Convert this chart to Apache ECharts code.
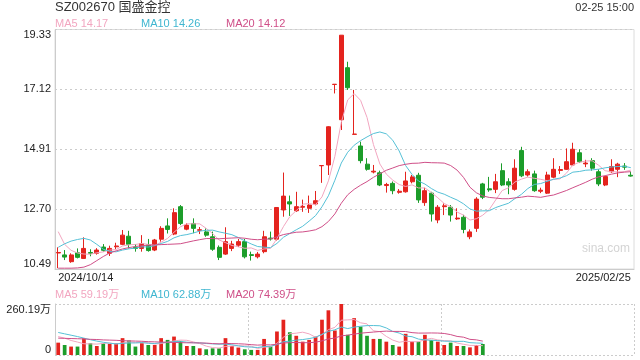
<!DOCTYPE html>
<html>
<head>
<meta charset="utf-8">
<script src="https://cdn.jsdelivr.net/npm/echarts@6/dist/echarts.min.js"></script>
<style>html,body{margin:0;padding:0;background:#fff}#c{width:640px;height:360px}</style>
</head>
<body>
<div id="c"></div>
<script>
const dates = ['2024/10/14','2024/10/15','2024/10/16','2024/10/17','2024/10/18','2024/10/21','2024/10/22','2024/10/23','2024/10/24','2024/10/25','2024/10/28','2024/10/29','2024/10/30','2024/10/31',
'2024/11/01','2024/11/04','2024/11/05','2024/11/06','2024/11/07','2024/11/08','2024/11/11','2024/11/12','2024/11/13','2024/11/14','2024/11/15','2024/11/18','2024/11/19','2024/11/20','2024/11/21','2024/11/22','2024/11/25','2024/11/26','2024/11/27','2024/11/28','2024/11/29',
'2024/12/02','2024/12/03','2024/12/04','2024/12/05','2024/12/06','2024/12/09','2024/12/10','2024/12/11','2024/12/12','2024/12/13','2024/12/16','2024/12/17','2024/12/18','2024/12/19','2024/12/20','2024/12/23','2024/12/24','2024/12/25','2024/12/26','2024/12/27','2024/12/30','2024/12/31',
'2025/01/02','2025/01/03','2025/01/06','2025/01/07','2025/01/08','2025/01/09','2025/01/10','2025/01/13','2025/01/14','2025/01/15','2025/01/16','2025/01/17','2025/01/20','2025/01/21','2025/01/22','2025/01/23','2025/01/24','2025/01/27',
'2025/02/05','2025/02/06','2025/02/07','2025/02/10','2025/02/11','2025/02/12','2025/02/13','2025/02/14','2025/02/17','2025/02/18','2025/02/19','2025/02/20','2025/02/21','2025/02/24','2025/02/25'];

const opens  = [11.08,11.01,10.76,11.09,10.88,11.10,11.07,11.30,11.07,11.31,11.40,11.70,11.29,11.25,11.38,11.19,11.59,12.08,11.78,12.79,11.96,12.17,11.92,11.86,11.68,11.29,11.04,11.25,11.37,11.50,11.02,10.94,11.13,11.63,11.59,12.67,12.97,12.64,12.77,12.73,12.89,14.30,14.33,17.30,16.00,17.92,15.46,15.03,14.36,14.07,14.04,13.57,13.65,13.32,13.34,13.71,13.95,12.94,13.29,12.30,12.79,12.77,12.34,12.40,11.68,11.99,13.63,13.45,13.43,14.12,13.71,13.43,14.86,13.96,14.00,13.36,13.29,13.88,14.13,14.17,14.33,14.78,14.37,14.49,14.08,13.59,14.08,14.17,14.29,13.95];
const closes = [11.10,10.93,11.01,10.92,11.25,11.07,11.19,11.18,11.25,11.34,11.74,11.40,11.25,11.43,11.17,11.56,11.99,11.95,12.57,12.17,12.11,11.99,11.94,11.74,11.22,10.92,11.50,11.41,11.50,10.94,10.99,11.04,11.68,11.60,12.76,13.18,12.89,12.79,12.80,12.85,13.01,14.31,15.74,17.31,19.12,17.18,15.47,14.49,14.17,14.10,13.59,13.61,13.38,13.36,13.74,13.89,13.04,13.38,12.52,12.77,12.82,12.48,12.37,11.95,11.86,13.07,13.14,13.41,13.71,13.59,13.59,14.21,13.93,14.08,13.38,13.40,13.96,14.17,14.16,14.45,14.91,14.45,14.40,14.21,13.63,13.90,14.27,14.36,14.25,13.92];
const lows   = [10.52,10.82,10.72,10.88,10.86,10.96,11.02,11.13,10.97,11.22,11.37,11.25,11.13,11.13,11.13,11.15,11.50,11.80,11.74,12.11,11.92,11.81,11.78,11.68,11.16,10.82,11.01,11.15,11.30,10.88,10.80,10.88,11.07,11.54,11.54,12.42,12.45,12.60,12.60,12.56,12.84,13.67,13.96,16.97,15.62,17.10,15.46,14.39,14.12,14.02,13.55,13.31,13.25,13.27,13.31,13.65,12.93,12.82,12.24,12.18,12.48,12.24,12.30,11.81,11.59,11.86,13.07,13.34,13.29,13.55,13.25,13.38,13.88,13.90,13.34,13.29,13.26,13.84,14.00,14.15,14.29,14.40,14.25,14.12,13.55,13.55,14.04,13.88,14.15,13.90];
const highs  = [11.29,11.19,11.07,11.25,11.66,11.22,11.26,11.41,11.35,11.46,11.93,11.90,11.41,11.74,11.60,11.60,12.07,12.36,12.73,12.85,12.18,12.36,12.04,11.99,11.87,11.36,12.03,11.53,11.60,11.60,11.13,11.12,11.90,11.87,12.76,14.05,13.20,13.34,13.05,13.20,13.37,14.31,15.76,17.31,19.12,18.14,17.10,15.19,14.58,14.33,14.12,13.67,13.72,13.44,14.08,13.96,14.04,13.49,13.34,12.85,12.91,12.85,12.73,12.49,11.95,13.14,13.67,13.89,14.00,14.39,13.84,14.54,15.00,14.17,14.12,13.49,14.08,14.58,14.29,14.94,15.15,14.91,14.52,14.58,14.17,13.92,14.54,14.41,14.40,14.08];

// volume in 万 (only bars visible in the picture)
const volumes = [63,51,43,43,86,60,46,60,56,60,86,74,43,60,51,51,86,77,94,72,46,46,34,29,34,34,86,46,38,29,26,26,82,43,120,180,116,98,68,77,94,180,228,125,260.19,103,188,145,98,82,82,68,51,43,108,68,68,103,77,68,51,63,46,46,39,51,56];

const ma5Head  = [11.87,11.40,11.18,11.08];
const ma10Head = [11.29,11.42,11.52,11.58,11.62,11.56,11.40,11.22,11.14];
const ma20Head = [10.52,10.52,10.52,10.53,10.56,10.65,10.80,10.95,11.08,11.16,11.23,11.28,11.32,11.35,11.37,11.38,11.39,11.40,11.41];
const vma5Head  = [94,86,74,66];
const vma10Head = [115,108,101,94,86,78,71,65,60];
const vma20Head = [86,85,84,83,82,80,79,77,76,75,73,72,71,70,68,67,66,65,64];

const priceMin = 10.49, priceMax = 19.33, priceStep = 2.21;
const volMax = 260.19;
const maLabels = ['MA5 14.17','MA10 14.26','MA20 14.12'];
const volMaLabels = ['MA5 59.19万','MA10 62.88万','MA20 74.39万'];

const RED = '#e4231e', GREEN = '#1c9d2a';
const C5 = '#f2a6c0', C10 = '#55c0d6', C20 = '#cf4f88';

function movingAvg(values, n, head, len) {
  const out = [];
  for (let i = 0; i < len; i++) {
    if (i < head.length) { out.push(head[i]); continue; }
    if (i >= values.length || i - n + 1 < 0) { out.push(null); continue; }
    let s = 0, ok = true;
    for (let k = i - n + 1; k <= i; k++) { if (values[k] == null) { ok = false; break; } s += values[k]; }
    out.push(ok ? +(s / n).toFixed(3) : null);
  }
  return out;
}
function isUp(i) {
  if (closes[i] > opens[i]) return true;
  if (closes[i] < opens[i]) return false;
  return i === 0 || closes[i] >= closes[i - 1];
}

const N = dates.length;
const kData = dates.map((d, i) => [opens[i], closes[i], lows[i], highs[i]]);
const volData = dates.map((d, i) => i < volumes.length ?
  { value: volumes[i], itemStyle: { color: isUp(i) ? RED : GREEN } } : null);

const FONT = 'Arial, "Liberation Sans", "Noto Sans CJK SC", sans-serif';
const chart = echarts.init(document.getElementById('c'), null, { renderer: 'canvas' });

const textEl = (t, x, y, color, size) => ({ type: 'text', left: x, top: y, silent: true,
  style: { text: t, fill: color, font: (size || 11) + 'px ' + FONT } });

chart.setOption({
  animation: false,
  textStyle: { fontFamily: FONT },
  title: [
    { text: 'SZ002670 国盛金控', left: 55, top: 1, padding: 0,
      textStyle: { fontSize: 13, fontWeight: 'normal', color: '#333', fontFamily: FONT } },
    { text: '02-25 15:00', right: 6, top: 2, padding: 0,
      textStyle: { fontSize: 11, fontWeight: 'normal', color: '#333', fontFamily: FONT } }
  ],
  graphic: [
    textEl(maLabels[0], 55, 18, C5), textEl(maLabels[1], 141, 18, '#3fb6d0'), textEl(maLabels[2], 226, 18, C20),
    textEl(volMaLabels[0], 55, 289, C5), textEl(volMaLabels[1], 141, 289, '#3fb6d0'), textEl(volMaLabels[2], 226, 289, C20),
    textEl('sina.com', 582, 243, '#d4d4d4', 12)
  ],
  grid: [
    { left: 55, right: 6, top: 29.5, height: 239.5, show: true, borderColor: '#dcdcdc', borderWidth: 1 },
    { left: 55, right: 6, top: 304, height: 51 }
  ],
  xAxis: [
    { type: 'category', data: dates, gridIndex: 0, boundaryGap: true,
      axisLine: { show: true, lineStyle: { color: '#ccc' } }, axisTick: { show: false },
      axisLabel: { interval: (i) => i === 0 || i === N - 1, margin: 3, fontSize: 11, color: '#222',
        alignMinLabel: 'left', alignMaxLabel: 'right' },
      splitLine: { show: false } },
    { type: 'category', data: dates, gridIndex: 1, boundaryGap: true,
      axisLine: { show: false }, axisTick: { show: false }, axisLabel: { show: false },
      splitLine: { show: true, interval: 29, lineStyle: { color: '#ccc', type: [2, 2] } } }
  ],
  yAxis: [
    { type: 'value', gridIndex: 0, min: priceMin, max: priceMax, interval: priceStep,
      axisLine: { show: true, lineStyle: { color: '#ccc' } }, axisTick: { show: false },
      axisLabel: { formatter: (v) => v.toFixed(2), margin: 4, fontSize: 11, color: '#222',
        showMinLabel: true, showMaxLabel: true,
        verticalAlignMinLabel: 'bottom', verticalAlignMaxLabel: 'top' },
      splitLine: { show: true, lineStyle: { color: '#ccc', type: [2, 3] } } },
    { type: 'value', gridIndex: 1, min: 0, max: volMax, interval: volMax,
      axisLine: { show: true, lineStyle: { color: '#ccc' } }, axisTick: { show: false },
      axisLabel: { formatter: (v) => v === 0 ? '0' : v.toFixed(2) + '万', margin: 4, fontSize: 11, color: '#222',
        showMinLabel: true, showMaxLabel: true,
        verticalAlignMinLabel: 'bottom', verticalAlignMaxLabel: 'top' },
      splitLine: { show: true, lineStyle: { color: '#ccc', type: [2, 2] } } }
  ],
  series: [
    { type: 'candlestick', name: 'K', xAxisIndex: 0, yAxisIndex: 0, data: kData, barWidth: '70%',
      itemStyle: { color: RED, color0: GREEN, borderColor: RED, borderColor0: GREEN, borderWidth: 1 } },
    { type: 'line', name: 'MA5', xAxisIndex: 0, yAxisIndex: 0, data: movingAvg(closes, 5, ma5Head, N),
      showSymbol: false, lineStyle: { width: 1, color: C5 }, itemStyle: { color: C5 } },
    { type: 'line', name: 'MA10', xAxisIndex: 0, yAxisIndex: 0, data: movingAvg(closes, 10, ma10Head, N),
      showSymbol: false, lineStyle: { width: 1, color: C10 }, itemStyle: { color: C10 } },
    { type: 'line', name: 'MA20', xAxisIndex: 0, yAxisIndex: 0, data: movingAvg(closes, 20, ma20Head, N),
      showSymbol: false, lineStyle: { width: 1, color: C20 }, itemStyle: { color: C20 } },
    { type: 'bar', name: 'VOL', xAxisIndex: 1, yAxisIndex: 1, data: volData, barWidth: '58%' },
    { type: 'line', name: 'VMA5', xAxisIndex: 1, yAxisIndex: 1, data: movingAvg(volumes, 5, vma5Head, N),
      showSymbol: false, lineStyle: { width: 1, color: C5 } },
    { type: 'line', name: 'VMA10', xAxisIndex: 1, yAxisIndex: 1, data: movingAvg(volumes, 10, vma10Head, N),
      showSymbol: false, lineStyle: { width: 1, color: C10 } },
    { type: 'line', name: 'VMA20', xAxisIndex: 1, yAxisIndex: 1, data: movingAvg(volumes, 20, vma20Head, N),
      showSymbol: false, lineStyle: { width: 1, color: C20 } }
  ]
});
</script>
</body>
</html>
